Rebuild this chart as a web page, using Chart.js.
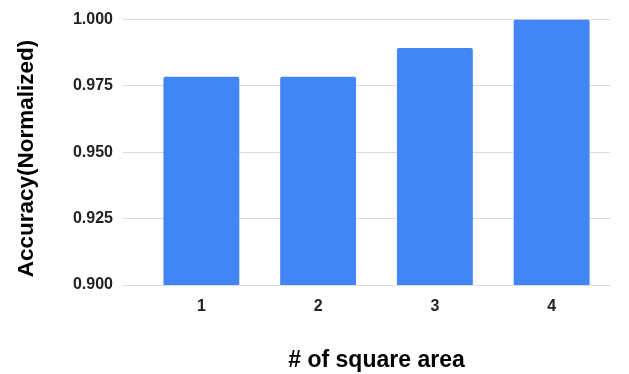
<!DOCTYPE html>
<html>
<head>
<meta charset="utf-8">
<script src="https://cdn.jsdelivr.net/npm/chart.js@4/dist/chart.umd.min.js"></script>
<style>
  html, body { margin: 0; padding: 0; background: #fff; }
  #wrap { width: 629px; height: 374px; }
</style>
</head>
<body>
<div id="wrap"><canvas id="chart" width="629" height="374"></canvas></div>
<script>
const areaCounts = ['1', '2', '3', '4'];
const accuracy = [0.9785, 0.9785, 0.9893, 1.0];
const yTicks = [0.9, 0.925, 0.95, 0.975, 1.0];

const FONT = "'Liberation Sans', Arial, sans-serif";
const GRID = '#dcdcdc';

new Chart(document.getElementById('chart'), {
  type: 'bar',
  data: {
    labels: areaCounts,
    datasets: [{
      label: 'Accuracy',
      data: accuracy,
      backgroundColor: '#4285f4',
      borderRadius: { topLeft: 2, topRight: 2 },
      borderSkipped: 'bottom',
      categoryPercentage: 1,
      barPercentage: 0.65,
    }],
  },
  options: {
    responsive: false,
    animation: false,
    layout: { padding: { top: 12, right: 19, left: 0, bottom: 0 } },
    plugins: {
      legend: { display: false },
      tooltip: { enabled: false },
    },
    scales: {
      x: {
        grid: { display: false },
        border: { display: false },
        ticks: {
          padding: 4,
          color: '#222',
          font: { family: FONT, size: 16, weight: 'bold' },
        },
        title: {
          display: true,
          text: '# of square area',
          color: '#000',
          padding: { top: 0, bottom: 0 },
          font: { family: FONT, size: 23, weight: 'bold' },
        },
        afterFit(scale) { scale.height = 89; },
      },
      y: {
        min: yTicks[0],
        max: yTicks[yTicks.length - 1],
        afterBuildTicks(scale) {
          scale.ticks = yTicks.map(v => ({ value: v }));
        },
        grid: { color: GRID, lineWidth: 1, drawTicks: true, tickLength: 20, tickColor: GRID },
        border: { display: false },
        ticks: {
          padding: 10,
          color: '#222',
          font: { family: FONT, size: 16, weight: 'bold' },
          callback: v => Number(v).toFixed(3),
        },
        title: {
          display: true,
          // trailing spaces nudge the rotated title a little lower
          text: 'Accuracy(Normalized)  ',
          color: '#000',
          padding: { top: 13, bottom: 0 },
          font: { family: FONT, size: 22.5, weight: 'bold' },
        },
        afterFit(scale) { scale.width = 143; },
      },
    },
  },
});
</script>
</body>
</html>
